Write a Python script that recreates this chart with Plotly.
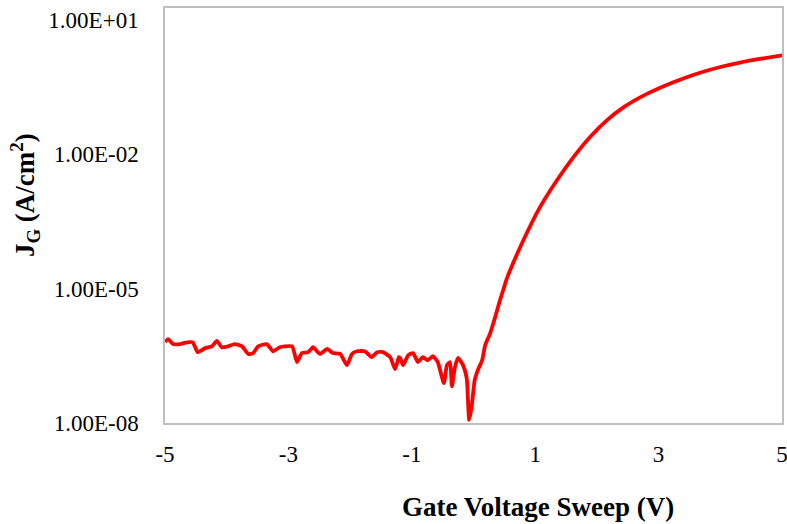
import plotly.graph_objects as go

# Gate voltage (V) and log10 of gate current density (A/cm^2)
voltage = [-5.00, -4.95, -4.87, -4.76, -4.64, -4.55, -4.47, -4.35, -4.24, -4.16,
           -4.08, -3.98, -3.87, -3.75, -3.65, -3.57, -3.49, -3.35, -3.25, -3.14,
           -3.06, -2.94, -2.86, -2.78, -2.68, -2.60, -2.49, -2.37, -2.28, -2.16,
           -2.05, -1.97, -1.89, -1.76, -1.65, -1.56, -1.47, -1.35, -1.27, -1.21,
           -1.19, -1.14, -1.06, -0.98, -0.90, -0.82, -0.74, -0.66, -0.58, -0.48,
           -0.43, -0.38, -0.35, -0.30, -0.25, -0.17, -0.11, -0.07, -0.03, 0.02,
           0.07, 0.14, 0.19, 0.27, 0.35, 0.43, 0.48, 0.54, 0.81, 1.08,
           1.35, 1.62, 1.89, 2.16, 2.43, 2.81, 3.24, 3.62, 4.00, 4.32,
           4.64, 5.00]
log10_jg = [-6.19, -6.13, -6.24, -6.24, -6.20, -6.20, -6.42, -6.33, -6.29, -6.17,
            -6.31, -6.29, -6.24, -6.29, -6.46, -6.44, -6.29, -6.24, -6.40, -6.31,
            -6.29, -6.29, -6.64, -6.44, -6.42, -6.31, -6.46, -6.35, -6.44, -6.46,
            -6.71, -6.46, -6.40, -6.40, -6.53, -6.42, -6.42, -6.53, -6.80, -6.53,
            -6.55, -6.71, -6.49, -6.44, -6.64, -6.53, -6.60, -6.51, -6.64, -7.11,
            -6.71, -6.64, -7.18, -6.75, -6.55, -6.71, -7.00, -7.93, -7.64, -7.04,
            -6.82, -6.60, -6.26, -6.00, -5.64, -5.26, -5.04, -4.78, -3.92, -3.18,
            -2.59, -2.07, -1.62, -1.25, -0.96, -0.66, -0.40, -0.21, -0.06, 0.04,
            0.12, 0.20]
jg = [10 ** v for v in log10_jg]

x_ticks = [-5, -3, -1, 1, 3, 5]
y_tickvals = [1e-8, 1e-5, 1e-2, 1e1]
y_ticktext = ["1.00E-08", "1.00E-05", "1.00E-02", "1.00E+01"]

FONT = "Times New Roman, Liberation Serif, serif"

fig = go.Figure()
fig.add_trace(go.Scatter(x=voltage, y=jg, mode="lines",
                         line=dict(color="#FF0000", width=3.8, shape="spline", smoothing=0.5),
                         showlegend=False))

fig.update_layout(
    width=787, height=524,
    margin=dict(l=165, r=5, t=8, b=101),
    paper_bgcolor="white", plot_bgcolor="white",
    font=dict(family=FONT, size=23, color="black"),
    xaxis=dict(range=[-5, 5], tickvals=x_ticks, ticktext=[str(t) for t in x_ticks],
               showgrid=False, zeroline=False, showline=True, mirror=True,
               linecolor="#BFBFBF", linewidth=1.5, ticks="", ticklabelstandoff=10,
               ticklabeloverflow="allow", automargin=False),
    yaxis=dict(type="log", range=[-8, 1.256], tickvals=y_tickvals, ticktext=y_ticktext,
               showgrid=False, zeroline=False, showline=True, mirror=True,
               linecolor="#BFBFBF", linewidth=1.5, ticks="", ticklabelstandoff=20,
               ticklabeloverflow="allow", automargin=False),
    annotations=[
        dict(text="<b>Gate Voltage Sweep (V)</b>", xref="paper", yref="paper",
             x=0.605, y=-0.202, xanchor="center", yanchor="middle", showarrow=False,
             font=dict(family=FONT, size=27, color="black")),
        dict(text="<b>J<sub>G</sub> (A/cm<sup>2</sup>)</b>", xref="paper", yref="paper",
             x=-0.227, y=0.549, xanchor="center", yanchor="middle", showarrow=False,
             textangle=-90, font=dict(family=FONT, size=27, color="black")),
    ],
)

fig.write_html("out.html", config={"displayModeBar": False},
               post_script="document.body.style.margin='0';document.body.style.overflow='hidden';")
